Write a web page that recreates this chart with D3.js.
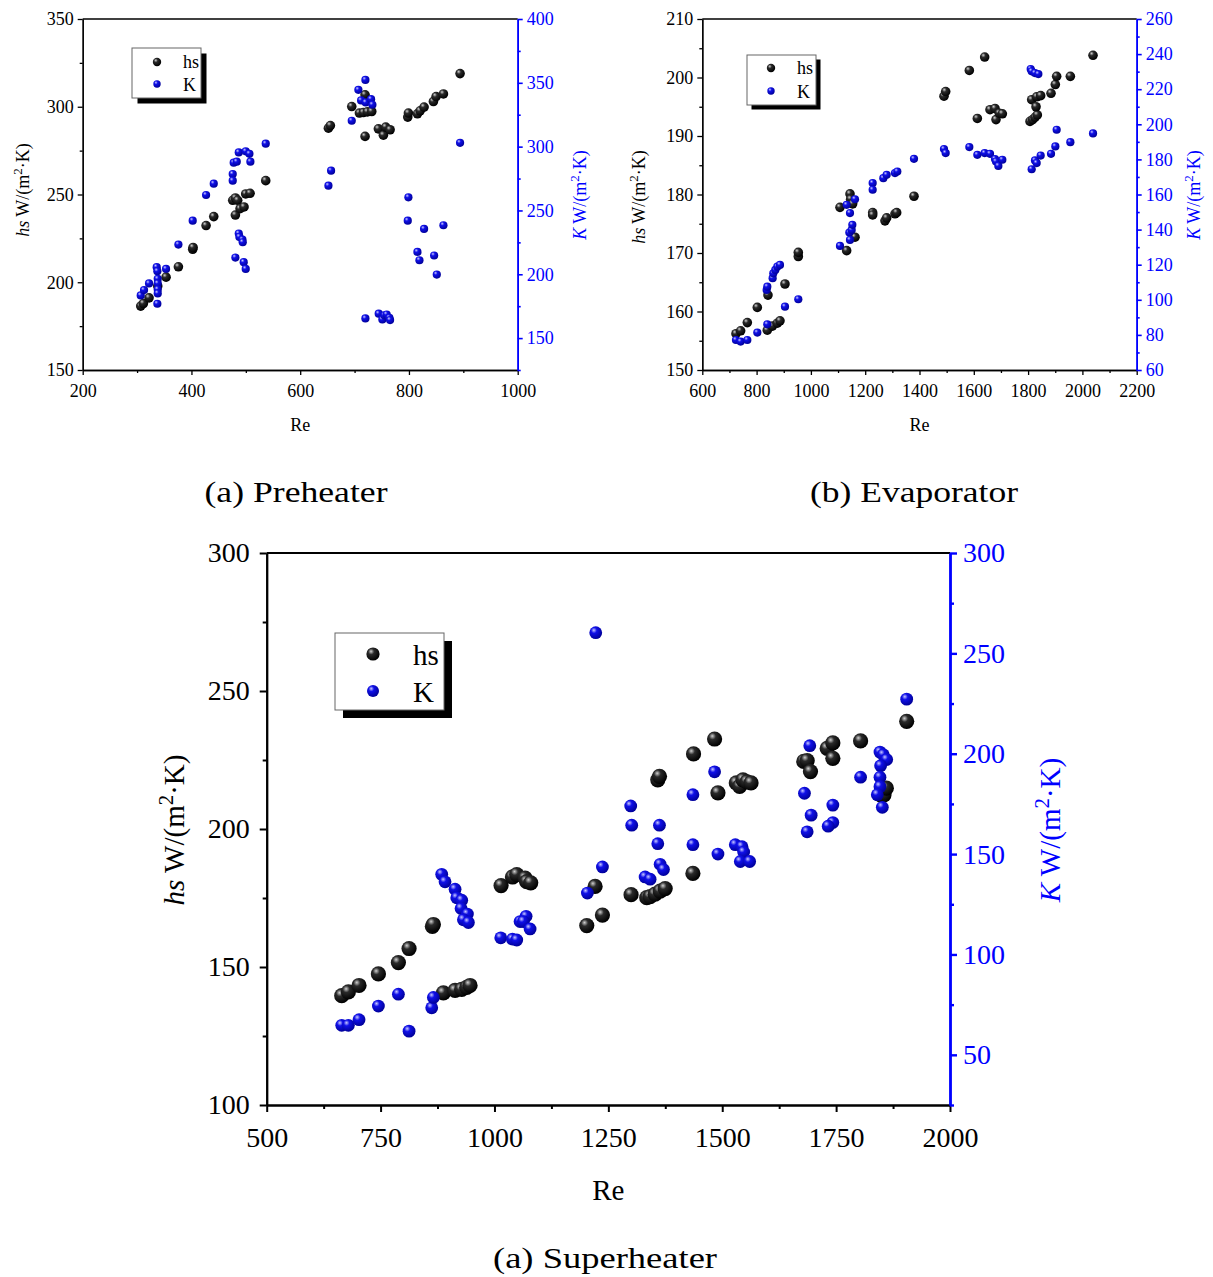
<!DOCTYPE html>
<html>
<head>
<meta charset="utf-8">
<script src="https://cdn.jsdelivr.net/npm/d3@7/dist/d3.min.js"></script>
<style>
  body { margin: 0; background: #fff; }
  text { font-family: "Liberation Serif", "Times New Roman", serif; }
</style>
</head>
<body>
<script>
// ---- data: [Re, value] pairs ----
var preHs = [[306.7,186.4],[311.6,187.9],[322,191.1],[338,197.8],[353.3,202.9],[376,208.8],[402.3,218.8],[403,219.8],
  [426.9,232.3],[441,237.4],[475.9,246.7],[480.8,248],[485,246.7],[480.8,238.3],[489.4,241.9],[496.7,242.9],
  [499.8,250.3],[507.8,250.7],[536.6,257.9],[651.9,287.8],[655.5,289.3],[694.8,300.1],[708.9,296.4],[716.2,296.7],
  [723.6,297.1],[731.6,297.3],[719.3,306.8],[719.3,283.1],[743.8,287.4],[753,283.8],[757.3,288.4],[765.3,286.9],
  [797.8,294.1],[799,296.4],[815.6,296],[820.5,297.7],[827.8,299.8],[845,303],[849.9,305.8],[863.4,307.3],[894,318.9]];
var preK = [[306.7,183.4],[312.8,187.6],[322,192.8],[336.1,205.6],[337.3,202.4],[353.3,204.2],[338,196.4],[338,192.8],
  [338,188.1],[338,185],[337.3,176.9],[376,223.3],[402.3,242],[426.9,262.1],[441,271],[475.9,278.5],[475.9,273.3],
  [477.7,287.4],[483.3,288.2],[487,295.5],[499.8,296.3],[506.6,294.4],[508.4,288.2],[536.6,302.3],[480.8,213.1],
  [487,231.9],[488.2,229.3],[493.7,227.2],[494.3,225.1],[496.1,209.5],[499.8,204.2],[651.9,269.4],[656.8,281.2],
  [694.8,320.3],[707,344.5],[719.9,352.3],[712,336.2],[720.5,334.6],[730.3,337.2],[732.8,332.8],[719.9,165.4],
  [744.4,169.1],[751.1,164.6],[754.8,167.8],[759.1,168.5],[764,165.9],[765.3,164.1],[799,260.3],[797.8,242],
  [827.8,235.5],[815.6,217.5],[819.3,211],[846.3,214.7],[851.2,199.8],[863.4,238.4],[894,303]];

var evaHs = [[724,156.2],[741.2,156.7],[765.8,158.1],[802.6,160.7],[839.4,156.8],[841.9,162.8],[857.9,157.5],[876.3,158],
  [886.1,158.4],[904.5,164.7],[953.6,169.4],[953.6,170.1],[1107.1,177.8],[1131.7,170.4],[1144,180.1],[1146.4,179.2],
  [1153.8,178.4],[1162.4,172.7],[1227.5,176.9],[1227.5,176.5],[1272.9,175.5],[1279,176],[1309.7,176.7],[1315.9,176.9],
  [1379.7,179.7],[1490.2,196.8],[1496.4,197.6],[1583.5,201.2],[1613,193],[1640,203.5],[1659.7,194.5],[1678.1,194.7],
  [1681.8,192.8],[1694,193.9],[1705.1,193.8],[1807,192.5],[1816.8,192.8],[1825.4,193.2],[1834,193.6],[1813.2,196.2],
  [1829.2,195],[1831.6,196.7],[1846.3,196.9],[1884.4,197.3],[1900.3,198.8],[1905.2,200.2],[1955.6,200.2],[2039.1,203.8]];
var evaK = [[724,77.1],[741.2,76.2],[765.8,77.1],[802.6,81.3],[839.4,86],[837,105.6],[839.4,107.5],[859.1,112.3],
  [861.5,115.1],[868.9,117],[876.3,118.9],[886.1,119.9],[904.5,96.1],[953.6,100.3],[1107.1,130.7],[1131.7,154.1],
  [1144,149.4],[1141.5,138.3],[1144,134.1],[1150.1,139.8],[1152.6,142.7],[1162.4,157.3],[1227.5,166.5],[1227.5,162.7],
  [1266.8,169.3],[1279,171.2],[1309.7,172.2],[1318.3,173.1],[1379.7,180.3],[1490.2,185.9],[1496.4,183.6],[1583.5,187],
  [1613,182.6],[1640,183.6],[1659.7,183.2],[1678.1,180.2],[1681.8,178.8],[1690.4,176.3],[1705.1,179.8],[1809.5,231.5],
  [1813.2,230.2],[1825.4,229.2],[1837.7,228.6],[1813.2,174.4],[1825.4,179.4],[1831.6,177.9],[1846.3,182.2],
  [1884.4,183.2],[1900.3,187.4],[1905.2,196.9],[1955.6,189.8],[2039.1,194.8]];

var supHs = [[664.7,139.6],[679.3,141],[702.7,143.3],[745.2,147.5],[789.1,151.6],[812.5,156.7],[863.7,164.7],[865.9,165.4],
  [887.9,140.6],[913.5,141.5],[928.1,141.9],[939.1,142.6],[946.4,143.3],[1014.5,179.5],[1039.4,182.6],[1048.9,183.5],
  [1067.2,182.2],[1070.8,180.9],[1079.6,180.5],[1202.6,165],[1220.9,179.2],[1237,168.8],[1299.9,176.2],[1334.3,175.1],
  [1341.7,175.5],[1352.7,176.4],[1363.7,177.5],[1374.7,178.4],[1358.5,217.8],[1362.2,219.1],[1435.6,183.9],[1437,227.2],
  [1483.2,232.6],[1490.6,213.1],[1530.9,216.7],[1538.2,215.4],[1545.6,217.8],[1554.4,217.1],[1563.2,216.7],[1679,224.5],
  [1686.4,224.8],[1693.7,220.8],[1730.4,229.2],[1742.8,231.2],[1742.8,225.6],[1803.7,231.9],[1847.7,212.4],
  [1855.1,212.4],[1860.2,214.8],[1904.9,239]];
var supK = [[664.7,64.7],[679.3,64.7],[702.7,67.5],[745.2,74.3],[789.1,80.2],[812.5,61.8],[862.3,73.4],[865.9,78.6],
  [884.2,139.9],[891.5,136.2],[913.5,132.5],[917.2,128.2],[928.1,127],[926.7,122.9],[940.6,120.1],[931.8,117.3],
  [942.8,115.9],[1013.8,108.3],[1039.4,107.6],[1048.9,107.2],[1056.2,116.4],[1069.4,119],[1063.5,116.4],[1078.2,112.7],
  [1204,130.6],[1222.3,260.3],[1237,143.6],[1299.1,174],[1301.3,164.4],[1362.2,164.4],[1358.5,155.2],[1330.7,138.6],
  [1341.7,137.5],[1363.7,144.9],[1371,142.3],[1435.6,179.6],[1435.6,154.7],[1483.2,191],[1490.6,150],[1528.7,154.7],
  [1543.4,153.7],[1547,151],[1539.7,146.3],[1560.2,146.3],[1692.2,204],[1680.5,180.3],[1695.2,169.4],[1686.4,161.1],
  [1742.8,174.4],[1742.8,165.7],[1732.6,163.9],[1803.7,188.3],[1846.3,200.8],[1853.6,199.5],[1861,197.1],
  [1847.7,194],[1846.3,188.3],[1846.3,183.6],[1840.4,179.6],[1851.4,173.3],[1904.9,227.2]];

var captions = ['(a) Preheater', '(b) Evaporator', '(a)  Superheater'];
var legendNames = ['hs', 'K'];

var blue = '#0000ff';

var svg = d3.select('body').append('svg')
    .attr('width', 1213).attr('height', 1277)
    .style('background', '#fff');

// sphere-like marker fills
var defs = svg.append('defs');
function ball(id, hi, mid, edge) {
    var gr = defs.append('radialGradient').attr('id', id)
        .attr('cx', '38%').attr('cy', '35%').attr('r', '65%')
        .attr('fx', '35%').attr('fy', '30%');
    gr.append('stop').attr('offset', '0%').attr('stop-color', hi);
    gr.append('stop').attr('offset', '35%').attr('stop-color', mid);
    gr.append('stop').attr('offset', '100%').attr('stop-color', edge);
}
ball('ballBlack', '#d0d0d0', '#2a2a2a', '#000');
ball('ballBlue', '#c8c8ff', '#1010e8', '#00009a');

function addAxis(g, maker, scale, tf, majors, minors, st, color, pad) {
    var mi = g.append('g').attr('transform', tf)
        .call(maker(scale).tickValues(minors).tickSize(st.minor).tickSizeOuter(0).tickFormat(''));
    var ma = g.append('g').attr('transform', tf)
        .call(maker(scale).tickValues(majors).tickSize(st.major).tickSizeOuter(0)
              .tickPadding(pad).tickFormat(d3.format('d')));
    [mi, ma].forEach(function(a) {
        a.select('.domain').attr('stroke', color).attr('stroke-width', st.line);
        a.selectAll('.tick line').attr('stroke', color).attr('stroke-width', st.line);
        a.selectAll('.tick text').attr('fill', color).style('font-size', st.font + 'px')
            .style('font-family', '"Liberation Serif", serif');
    });
}

function unitLabel(g, x, y, sym, size, color) {
    var t = g.append('text')
        .attr('transform', 'translate(' + x + ',' + y + ') rotate(-90)')
        .attr('text-anchor', 'middle')
        .attr('fill', color)
        .style('font-size', size + 'px');
    t.append('tspan').style('font-style', 'italic').text(sym);
    t.append('tspan').text(' W/(m');
    t.append('tspan').attr('dy', -size * 0.38).style('font-size', (size * 0.72) + 'px').text('2');
    t.append('tspan').attr('dy', size * 0.38).text('\u00b7K)');
}

function drawPanel(p) {
    var g = svg.append('g');
    var x = d3.scaleLinear().domain(p.xDom).range([p.l, p.r]);
    var yL = d3.scaleLinear().domain(p.hDom).range([p.b, p.t]);
    var yR = d3.scaleLinear().domain(p.kDom).range([p.b, p.t]);

    g.append('line').attr('x1', p.l).attr('x2', p.r).attr('y1', p.t).attr('y2', p.t)
        .attr('stroke', '#000').attr('stroke-width', p.st.line);

    var step = function(d, s) { return d3.range(d[0], d[1] + s / 2, s); };
    var minorOf = function(all, maj) { return all.filter(function(v) { return maj.indexOf(v) < 0; }); };

    var xMaj = step(p.xDom, p.xStep);
    addAxis(g, d3.axisBottom, x, 'translate(0,' + p.b + ')', xMaj, minorOf(step(p.xDom, p.xStep / 2), xMaj), p.st, '#000', p.st.padX);
    var hMaj = step(p.hDom, p.hStep);
    addAxis(g, d3.axisLeft, yL, 'translate(' + p.l + ',0)', hMaj, minorOf(step(p.hDom, p.hStep / 2), hMaj), p.st, '#000', p.st.pad);
    var kMaj = step([p.kFirst, p.kDom[1]], p.kStep);
    addAxis(g, d3.axisRight, yR, 'translate(' + p.r + ',0)', kMaj, minorOf(step(p.kDom, p.kStep / 2), kMaj), p.stR, blue, p.stR.pad);

    g.selectAll('circle.hs').data(p.hs).join('circle').attr('class', 'hs')
        .attr('cx', function(d) { return x(d[0]); })
        .attr('cy', function(d) { return yL(d[1]); })
        .attr('r', p.rH).attr('fill', 'url(#ballBlack)');
    g.selectAll('circle.k').data(p.k).join('circle').attr('class', 'k')
        .attr('cx', function(d) { return x(d[0]); })
        .attr('cy', function(d) { return yR(d[1]); })
        .attr('r', p.rK).attr('fill', 'url(#ballBlue)');

    // axis titles
    g.append('text').attr('x', (p.l + p.r) / 2).attr('y', p.reY).attr('text-anchor', 'middle')
        .style('font-size', p.tFont + 'px').text('Re');
    unitLabel(g, p.lbL[0], p.lbL[1], 'hs', p.tFont, '#000');
    unitLabel(g, p.lbR[0], p.lbR[1], 'K', p.tFont, blue);

    // legend
    var L = p.leg;
    g.append('rect').attr('x', L.x + L.sh).attr('y', L.y + L.sh).attr('width', L.w).attr('height', L.h).attr('fill', '#000');
    g.append('rect').attr('x', L.x).attr('y', L.y).attr('width', L.w).attr('height', L.h)
        .attr('fill', '#fff').attr('stroke', '#666').attr('stroke-width', 1);
    legendNames.forEach(function(name, i) {
        g.append('circle').attr('cx', L.x + L.mx).attr('cy', L.y + L.my[i])
            .attr('r', L.r[i]).attr('fill', i ? 'url(#ballBlue)' : 'url(#ballBlack)');
        g.append('text').attr('x', L.x + L.tx).attr('y', L.y + L.ty[i])
            .style('font-size', L.font + 'px').text(name);
    });

    // caption
    g.append('text').attr('x', p.cap[0]).attr('y', p.cap[1]).attr('text-anchor', 'middle')
        .attr('textLength', p.cap[2]).attr('lengthAdjust', 'spacingAndGlyphs')
        .style('font-size', p.cap[3] + 'px').text(p.caption);
}

var smallSt = { major: 5, minor: 3, pad: 4, padX: 9, font: 18, line: 1.3 };
var smallStR = { major: 5, minor: 3, pad: 4, font: 18, line: 1.6 };
var bigSt = { major: 7, minor: 4, pad: 10, padX: 15, font: 28, line: 2 };
var bigStR = { major: 7, minor: 4, pad: 6, font: 28, line: 2.4 };

drawPanel({ l: 82.7, r: 517.7, t: 19, b: 370, xDom: [200, 1000], xStep: 200, hDom: [150, 350], hStep: 50,
    kDom: [125, 400], kFirst: 150, kStep: 50, hs: preHs, k: preK, rH: 4.8, rK: 4.1, st: smallSt, stR: smallStR,
    tFont: 18, reY: 431, lbL: [29, 190], lbR: [586, 195],
    leg: { x: 132, y: 48, w: 69, h: 50, sh: 5.5, mx: 25, my: [14, 36], r: [4.2, 3.7], tx: 51, ty: [20, 43], font: 18 },
    caption: captions[0], cap: [296, 502, 183, 30] });

drawPanel({ l: 702.3, r: 1136.7, t: 19, b: 370, xDom: [600, 2200], xStep: 200, hDom: [150, 210], hStep: 10,
    kDom: [60, 260], kFirst: 60, kStep: 20, hs: evaHs, k: evaK, rH: 4.8, rK: 4.1, st: smallSt, stR: smallStR,
    tFont: 18, reY: 431, lbL: [645, 197], lbR: [1200, 195],
    leg: { x: 747, y: 55, w: 69, h: 50, sh: 4.5, mx: 24, my: [13, 36], r: [4.2, 3.7], tx: 50, ty: [19, 43], font: 18 },
    caption: captions[1], cap: [914, 502, 208, 30] });

drawPanel({ l: 266.7, r: 950, t: 553, b: 1105, xDom: [500, 2000], xStep: 250, hDom: [100, 300], hStep: 50,
    kDom: [25, 300], kFirst: 50, kStep: 50, hs: supHs, k: supK, rH: 7.6, rK: 6.4, st: bigSt, stR: bigStR,
    tFont: 29, reY: 1200, lbL: [184, 830], lbR: [1060, 830],
    leg: { x: 335, y: 633, w: 109, h: 77, sh: 8, mx: 38, my: [21, 58], r: [6.6, 6], tx: 78, ty: [32, 69], font: 29 },
    caption: captions[2], cap: [605, 1268, 224, 30] });
</script>
</body>
</html>
